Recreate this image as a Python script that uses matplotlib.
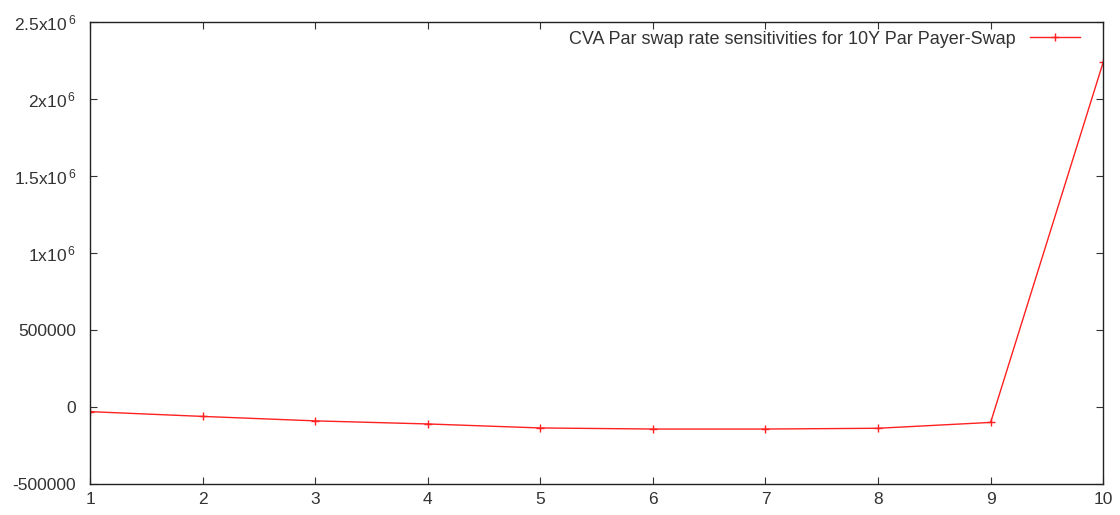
import matplotlib
matplotlib.use("Agg")
import matplotlib.pyplot as plt
from matplotlib.ticker import FixedLocator

x_vals = [1, 2, 3, 4, 5, 6, 7, 8, 9, 10]
sensitivities = [-30000, -61000, -90000, -110000, -136000, -143000, -143000, -138000, -100000, 2240000]
series_label = "CVA Par swap rate sensitivities for 10Y Par Payer-Swap"
y_ticks = [-500000, 0, 500000, 1000000, 1500000, 2000000, 2500000]
y_tick_labels = ["-500000", "0", "500000", "1x10$^{\\,6}$", "1.5x10$^{\\,6}$",
                 "2x10$^{\\,6}$", "2.5x10$^{\\,6}$"]

plt.rcParams['font.family'] = ['Liberation Sans', 'DejaVu Sans']
plt.rcParams['mathtext.fontset'] = 'custom'
plt.rcParams['mathtext.rm'] = 'Liberation Sans'
plt.rcParams['mathtext.default'] = 'regular'

fig = plt.figure(figsize=(11.2, 5.15), dpi=100)
ax = fig.add_axes([0.0804, 0.0602, 0.9046, 0.8968])

ax.plot(x_vals, sensitivities, color='#ff2020', linewidth=1.0, marker='+',
        markersize=6, markeredgewidth=1.0, label=series_label)

ax.set_xlim(1, 10)
ax.set_ylim(-500000, 2500000)
ax.xaxis.set_major_locator(FixedLocator(x_vals))
ax.yaxis.set_major_locator(FixedLocator(y_ticks))
ax.set_yticklabels(y_tick_labels)

ax.tick_params(axis='both', direction='in', length=5, width=0.8, color='#333333',
               labelsize=12.5, labelcolor='#333333', top=True, right=True)
ax.tick_params(axis='x', pad=6)
ax.tick_params(axis='y', pad=10)
for s in ax.spines.values():
    s.set_linewidth(1.0)
    s.set_color('#222222')

leg = ax.legend(loc='upper right', frameon=False, markerfirst=False, fontsize=13,
                handlelength=2.8, borderaxespad=0.3, bbox_to_anchor=(0.99, 1.009))
for t in leg.get_texts():
    t.set_color('#333333')

fig.savefig("out.png", dpi=100)
